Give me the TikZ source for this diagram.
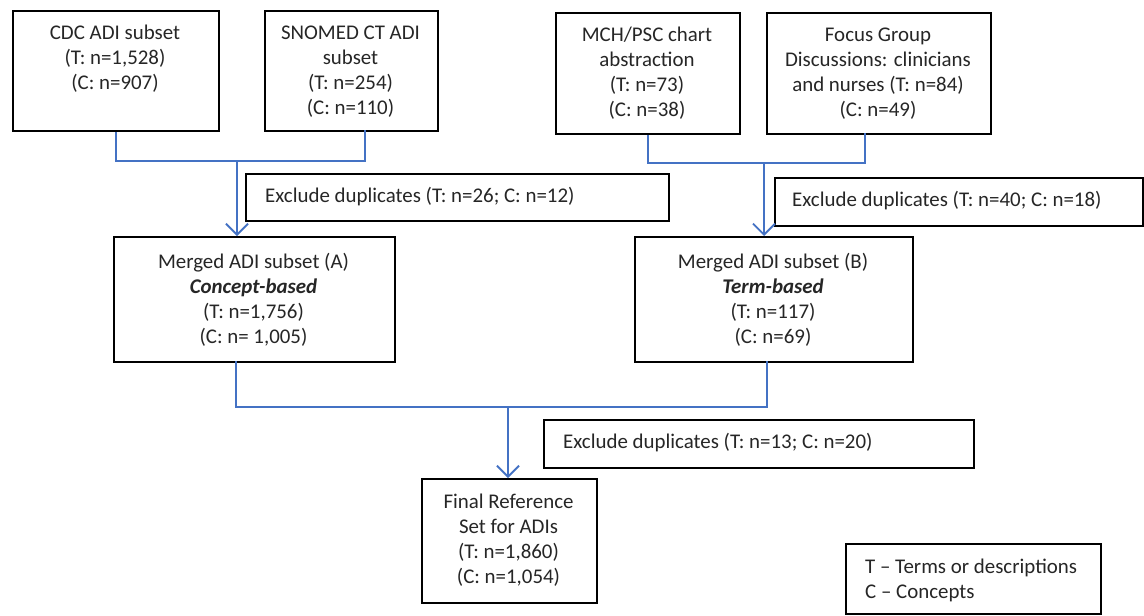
\documentclass[tikz,border=0pt]{standalone}
\usepackage{fontspec}
\setmainfont{Carlito}
\usetikzlibrary{arrows.meta}
\definecolor{linkc}{RGB}{68,114,196}
\definecolor{txtc}{RGB}{38,38,38}
\begin{document}
\begin{tikzpicture}[x=1pt,y=-1pt,
  box/.style={draw=black, line width=2.4pt, fill=white, inner sep=0pt, anchor=north west},
  txt/.style={text=txtc, font=\fontsize{20.9}{25}\selectfont, align=center, inner sep=0pt},
  ltxt/.style={text=txtc, font=\fontsize{20.9}{25}\selectfont, align=left, inner sep=0pt, anchor=west},
  link/.style={draw=linkc, line width=1.9pt},
  arr/.style={link, -{Straight Barb[length=11pt,width=22pt]}}]
\useasboundingbox (0,0) rectangle (1144,616);
% boxes
\node[box, minimum width=206pt, minimum height=120pt] (cdc) at (12,10) {};
\node[box, minimum width=173pt, minimum height=120pt] (sno) at (264,10) {};
\node[box, minimum width=184pt, minimum height=121pt] (mch) at (555,12) {};
\node[box, minimum width=224pt, minimum height=121pt] (foc) at (766,12) {};
\node[box, minimum width=423pt, minimum height=47pt] (exa) at (245,173) {};
\node[box, minimum width=368pt, minimum height=48pt] (exb) at (774,177) {};
\node[box, minimum width=281pt, minimum height=125pt] (ma) at (113,236) {};
\node[box, minimum width=278pt, minimum height=125pt] (mb) at (634,236) {};
\node[box, minimum width=430pt, minimum height=48pt] (exc) at (543,419) {};
\node[box, minimum width=175pt, minimum height=124pt] (fin) at (421,478) {};
\node[box, minimum width=255pt, minimum height=70pt] (leg) at (845,543) {};
% texts
\node[txt] (cdct) at (115,59) {CDC ADI subset\\(T: n=1,528)\\(C: n=907)};
\node[txt] (snot) at (350.5,71.5) {SNOMED CT ADI\\subset\\(T: n=254)\\(C: n=110)};
\node[txt] (mcht) at (647,73.5) {MCH/PSC chart\\abstraction\\(T: n=73)\\(C: n=38)};
\node[txt] (foct) at (878,73.5) {Focus Group\\Discussions: clinicians\\and nurses (T: n=84)\\(C: n=49)};
\node[ltxt] (exat) at (265,197) {Exclude duplicates (T: n=26; C: n=12)};
\node[ltxt] (exbt) at (792,201) {Exclude duplicates (T: n=40; C: n=18)};
\node[txt] (mat) at (253.5,300) {Merged ADI subset (A)\\\textbf{\textit{Concept-based}}\\(T: n=1,756)\\(C: n= 1,005)};
\node[txt] (mbt) at (773,300) {Merged ADI subset (B)\\\textbf{\textit{Term-based}}\\(T: n=117)\\(C: n=69)};
\node[ltxt] (exct) at (563,443) {Exclude duplicates (T: n=13; C: n=20)};
\node[txt] (fint) at (508.5,540.5) {Final Reference\\Set for ADIs\\(T: n=1,860)\\(C: n=1,054)};
\node[ltxt] (legt) at (865,580) {T -- Terms or descriptions\\C -- Concepts};
% connector points
\coordinate (snob) at (365,130);
\coordinate (j1) at (237,161);
\coordinate (focb) at (865,133);
\coordinate (j2) at (764,163);
\coordinate (mab) at (236,361);
\coordinate (mbb) at (767,361);
\coordinate (j3) at (508,407);
% connectors
\draw[link] (cdc.south) |- (j1) -| (snob);
\draw[arr] (j1) -- (j1 |- ma.north);
\draw[link] (mch.south) |- (j2) -| (focb);
\draw[arr] (j2) -- (j2 |- mb.north);
\draw[link] (mab) |- (j3) -| (mbb);
\draw[arr] (j3) -- (j3 |- fin.north);
\end{tikzpicture}
\end{document}
